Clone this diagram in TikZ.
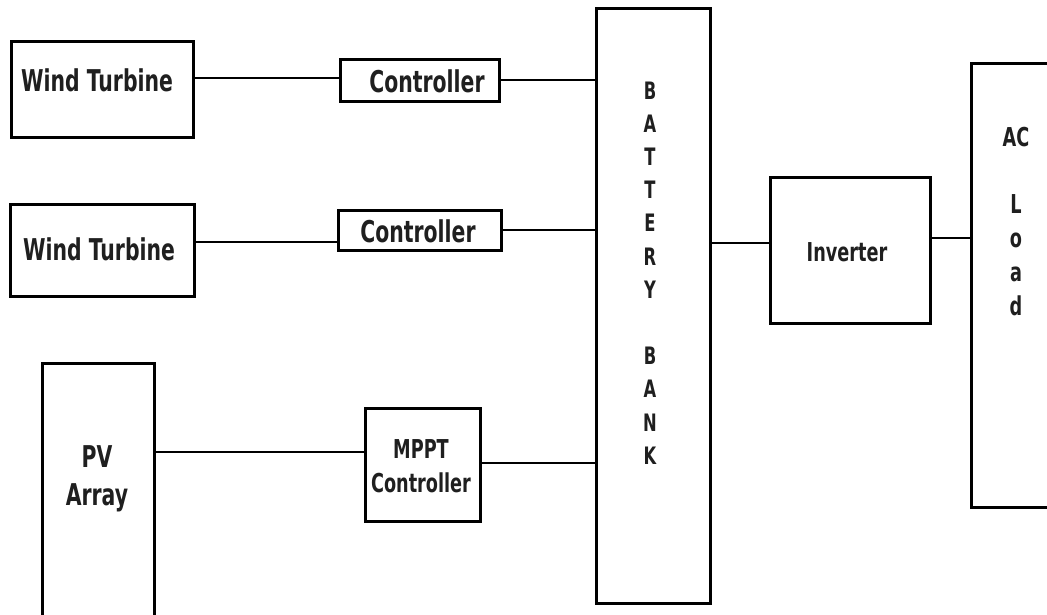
\documentclass[tikz,border=0pt]{standalone}
\usepackage{fontspec}
\newfontfamily\lblfont[FakeStretch=0.68]{DejaVu Sans Bold}
\begin{document}
\begin{tikzpicture}[x=1pt,y=-1pt,
  blk/.style={draw=black,line width=3pt,rectangle,inner sep=0pt,anchor=center},
  lbl/.style={text=black!88,align=center,inner sep=0pt,anchor=center},
  big/.style={lbl,font={\lblfont\fontsize{30}{38}\selectfont}},
  mid/.style={lbl,font={\lblfont\fontsize{26}{34}\selectfont}},
  tall/.style={lbl,font={\lblfont\fontsize{24}{33.2}\selectfont}},
  wire/.style={draw=black,line width=2.4pt}]
\useasboundingbox (0,0) rectangle (1047,614);
\fill[white] (0,0) rectangle (1047,614);
\clip (0,0) rectangle (1047,614);
% boxes
\node[blk,minimum width=182pt,minimum height=96pt] (wt1) at (102,89) {};
\node[blk,minimum width=159pt,minimum height=42pt] (c1) at (419.5,80) {};
\node[blk,minimum width=184pt,minimum height=92pt] (wt2) at (102,250) {};
\node[blk,minimum width=163pt,minimum height=40pt] (c2) at (419.5,230) {};
\node[blk,minimum width=112pt,minimum height=277pt] (pv) at (98,501.5) {};
\node[blk,minimum width=115pt,minimum height=113pt] (mppt) at (422.5,464.5) {};
\node[blk,minimum width=114pt,minimum height=595pt] (batt) at (653,305.5) {};
\node[blk,minimum width=160pt,minimum height=146pt] (inv) at (850,250) {};
\node[blk,minimum width=109pt,minimum height=444pt] (load) at (1025.5,285) {};
% labels
\node[big] (twt1) at (97,80) {Wind Turbine};
\node[big] (tc1) at (427,81) {Controller};
\node[big] (twt2) at (99,249) {Wind Turbine};
\node[big] (tc2) at (418,231) {Controller};
\node[big] (tpv) at (97,479) {PV\\Array};
\node[mid] (tmppt) at (421,466) {MPPT\\Controller};
\node[tall] (tbatt) at (650,273) {B\\A\\T\\T\\E\\R\\Y\\[33.2pt]B\\A\\N\\K};
\node[mid] (tinv) at (847,252) {Inverter};
\node[mid,anchor=north] (tload) at (1016,127) {AC\\[32.5pt]L\\o\\a\\d};
% connectors
\draw[wire] (wt1.east |- 0,78) -- (c1.west |- 0,78);
\draw[wire] (c1.east) -- (batt.west |- c1.east);
\draw[wire] (wt2.east |- 0,242) -- (c2.west |- 0,242);
\draw[wire] (c2.east) -- (batt.west |- c2.east);
\draw[wire] (pv.east |- 0,452) -- (mppt.west |- 0,452);
\draw[wire] (mppt.east |- 0,463) -- (batt.west |- 0,463);
\draw[wire] (batt.east |- 0,243) -- (inv.west |- 0,243);
\draw[wire] (inv.east |- 0,238) -- (load.west |- 0,238);
\end{tikzpicture}
\end{document}
